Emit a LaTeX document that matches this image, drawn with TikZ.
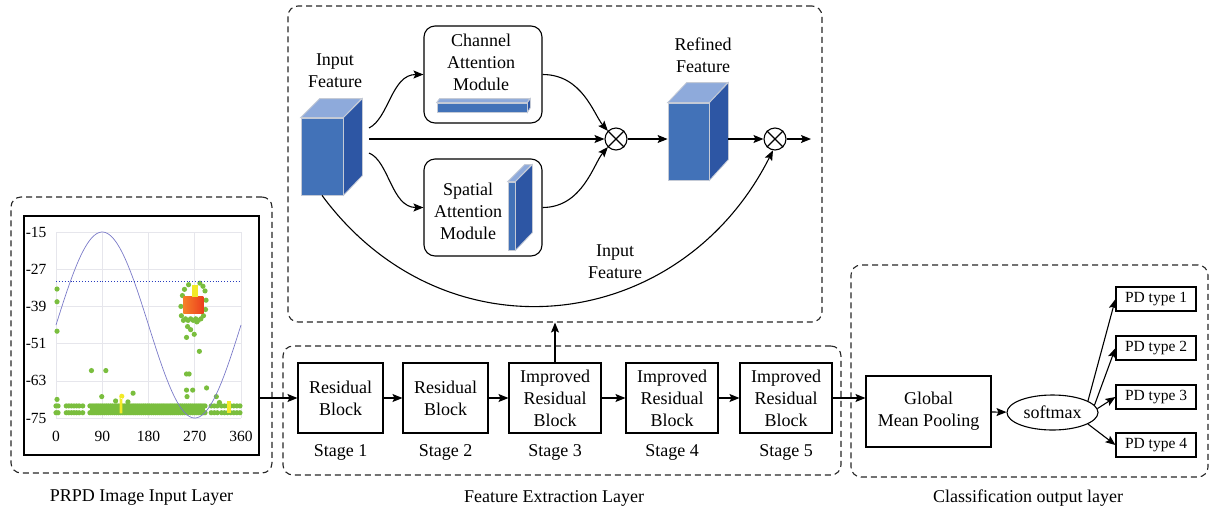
\documentclass[tikz,border=0pt]{standalone}
\usepackage{fontspec}
\setmainfont{Liberation Serif}
\usetikzlibrary{arrows.meta, positioning, shapes.geometric}

\definecolor{cubefront}{RGB}{66,114,184}
\definecolor{cubetop}{RGB}{142,170,219}
\definecolor{cubeside}{RGB}{45,86,164}
\definecolor{cubeedge}{RGB}{196,202,214}
\definecolor{ptgreen}{RGB}{122,190,62}
\definecolor{ptyellow}{RGB}{242,234,40}
\definecolor{ptred}{RGB}{236,62,30}
\definecolor{ptorange}{RGB}{246,128,40}
\definecolor{sinecol}{RGB}{122,122,200}
\definecolor{threshcol}{RGB}{40,60,190}
\definecolor{gridcol}{RGB}{230,230,236}

\begin{document}
\begin{tikzpicture}[x=1pt, y=-1pt, line width=1.1pt,
  font=\fontsize{18}{22}\selectfont,
  >={Stealth[length=10pt, width=8pt, inset=2pt]},
  every node/.append style={align=center},
  panel/.style={draw=black!85, dash pattern=on 6pt off 4pt, rounded corners=10pt, inner sep=0pt},
  block/.style={draw, inner sep=0pt, minimum height=70pt},
  module/.style={draw, rounded corners=11pt, inner sep=0pt, minimum width=118pt, minimum height=97pt},
  front/.style={fill=cubefront, draw=cubeedge, line width=0.8pt, inner sep=0pt},
  face/.style={draw=cubeedge, line width=0.8pt},
  mult/.style={draw, circle, minimum size=22pt, inner sep=0pt},
  pdbox/.style={draw, inner sep=0pt, minimum width=80pt, minimum height=24pt, font=\fontsize{15.5}{18}\selectfont},
  tick/.style={inner sep=0pt, font=\fontsize{15.5}{18}\selectfont}]

  \useasboundingbox (0,0) rectangle (1210,515);

  \node (inpanel) [panel, minimum width=261pt, minimum height=276pt] at (141.5,335) {};
  \node (attpanel) [panel, minimum width=534pt, minimum height=316pt] at (555,164) {};
  \node (featpanel) [panel, minimum width=558pt, minimum height=129pt] at (562,410.5) {};
  \node (clspanel) [panel, minimum width=357pt, minimum height=212pt] at (1029.5,371) {};

  \node (intitle) at (141.5,498) {PRPD Image Input Layer};
  \node (feattitle) at (554,498) {Feature Extraction Layer};
  \node (clstitle) at (1028,498) {Classification output layer};

  % PRPD map
  \node (prpd) [draw, minimum width=235pt, minimum height=239pt, inner sep=0pt] at (141.5,335.5) {};
  \begin{scope}[shift={(56,418)}, x=0.5139pt, y=3.1pt, line width=0.6pt]
    \foreach \p in {0,90,...,360}
      \draw[gridcol] (\p,0) -- (\p,60);
    \foreach \u in {0,12,...,60}
      \draw[gridcol] (0,\u) -- (360,\u);
    \foreach \u/\v in {0/-75,12/-63,24/-51,36/-39,48/-27,60/-15}
      \node (ytick\u) [tick, anchor=east] at (-18,\u) {\v};
    \foreach \p in {0,90,...,360}
      \node (xtick\p) [tick] at (\p,-5.8) {\p};

    \fill[ptgreen] (66,1.7) rectangle (290,3.9);
    \foreach \p in {66,70,...,290}
      \fill[ptgreen] (\p,1.7) circle[radius=2.6pt] (\p,3.9) circle[radius=2.6pt];
    \foreach \p in {0,4,20,25,30,35,40,45,52,302,308,314,322,328,334,340,346,352,358}
      \fill[ptgreen] (\p,1.7) circle[radius=2.6pt] (\p,3.9) circle[radius=2.6pt];
    \foreach \p/\u in {2/41.6,2/37.5,2/28,2/6,69/15.3,97/15.3,89/6.9,150/8,
        254/14.2,259/14.2,254/9,255/6.9,266/9,293/9.7,312/6.9,318/5,116/5.5,140/5.2}
      \fill[ptgreen] (\p,\u) circle[radius=2.6pt];
    \foreach \p/\u in {243/36,244/33,248/31.5,252/32,257/31.5,262/32,267/31.5,272/32,
        277/31.5,282/32,287/33,291/35,292/38,290/41,286/42.5,246/39.5,250/41.5,
        258/43,280/43.5,256/29.5,274/31,254/26,269/27,279/21.5,262/28.5}
      \fill[ptgreen] (\p,\u) circle[radius=2.6pt];
    \shade[left color=ptorange, right color=ptred] (248,33.8) rectangle (287,39.1);
    \fill[ptyellow] (264,39.1) rectangle (277,43);
    \fill[ptyellow] (124,1.5) rectangle (129,6.5) (128,7) circle[radius=2.6pt];
    \fill[ptyellow] (333,1.5) rectangle (340,5.5);

    \draw[sinecol, line width=0.7pt] plot[domain=0:360, samples=91, smooth] (\x, {30+30*sin(\x)});
    \draw[threshcol, dotted, line width=0.9pt] (0,43.9) -- (360,43.9);
  \end{scope}

  % backbone stages
  \node (b1) [block, minimum width=85pt] at (340.5,398) {Residual\\Block};
  \node (b2) [block, minimum width=85pt] at (445.5,398) {Residual\\Block};
  \node (b3) [block, minimum width=92pt] at (555,398) {Improved\\Residual\\Block};
  \node (b4) [block, minimum width=92pt] at (672,398) {Improved\\Residual\\Block};
  \node (b5) [block, minimum width=92pt] at (786,398) {Improved\\Residual\\Block};
  \foreach \i in {1,...,5}
    \node (st\i) [below=7pt of b\i] {Stage \i};

  \draw[->] (prpd.east |- b1) -- (b1);
  \draw[->] (b1) -- (b2);
  \draw[->] (b2) -- (b3);
  \draw[->] (b3) -- (b4);
  \draw[->] (b4) -- (b5);
  \draw[->] (b3) -- (b3 |- attpanel.south);

  % attention block
  \node (infeat) [front, minimum width=42pt, minimum height=77pt] at (322,156.5) {};
  \filldraw[face, fill=cubetop] (infeat.north west) -- ++(19,-19) -- ++(42,0) -- (infeat.north east) -- cycle;
  \filldraw[face, fill=cubeside] (infeat.north east) -- ++(19,-19) -- ++(0,77) -- (infeat.south east) -- cycle;
  \node (infeatlbl) at (335,71) {Input\\Feature};

  \node (cam) [module] at (483,74.5) {};
  \node (camlbl) at (481,62.5) {Channel\\Attention\\Module};
  \node (cambar) [front, minimum width=90pt, minimum height=9pt] at (482,107.5) {};
  \filldraw[face, fill=cubetop] (cambar.north west) -- ++(3,-4) -- ++(90,0) -- (cambar.north east) -- cycle;
  \filldraw[face, fill=cubeside] (cambar.north east) -- ++(3,-4) -- ++(0,9) -- (cambar.south east) -- cycle;

  \node (sam) [module] at (483,207.5) {};
  \node (samlbl) at (468,211) {Spatial\\Attention\\Module};
  \node (samslab) [front, minimum width=7pt, minimum height=68pt] at (511.5,216) {};
  \filldraw[face, fill=cubetop] (samslab.north west) -- ++(17,-17) -- ++(7,0) -- (samslab.north east) -- cycle;
  \filldraw[face, fill=cubeside] (samslab.north east) -- ++(17,-17) -- ++(0,68) -- (samslab.south east) -- cycle;

  \node (refined) [front, minimum width=41pt, minimum height=77pt] at (688.5,141.5) {};
  \filldraw[face, fill=cubetop] (refined.north west) -- ++(19,-20) -- ++(41,0) -- (refined.north east) -- cycle;
  \filldraw[face, fill=cubeside] (refined.north east) -- ++(19,-20) -- ++(0,77) -- (refined.south east) -- cycle;
  \node (refinedlbl) at (703,55) {Refined\\Feature};

  \node (mul1) [mult] at (616,139) {};
  \draw (mul1.45) -- (mul1.225) (mul1.135) -- (mul1.315);
  \node (mul2) [mult] at (775,139) {};
  \draw (mul2.45) -- (mul2.225) (mul2.135) -- (mul2.315);

  \coordinate (fork) at (369,139);
  \coordinate (attout) at (811,139);

  \draw[->] (fork) -- (mul1);
  \draw[->] ([yshift=11pt]fork) .. controls +(20,-10) and +(-32,0) .. (cam.west);
  \draw[->] ([yshift=-14pt]fork) .. controls +(20,8) and +(-32,0) .. (sam.west);
  \draw[->] (cam.east) .. controls +(40,0) and +(-14,-16) .. (mul1.135);
  \draw[->] (sam.east) .. controls +(40,0) and +(-14,16) .. (mul1.225);
  \draw[->] (mul1) -- (mul1 -| refined.west);
  \draw[->] (mul2 -| refined.east) ++(19,0) -- (mul2);
  \draw[->] (mul2) -- (attout);
  \draw[->] (infeat.south) .. controls (445,362) and (680,335) .. (mul2.260);
  \node (skiplbl) at (615,262) {Input\\Feature};

  % classifier
  \node (gmp) [block, minimum width=125pt, minimum height=71pt] at (928.5,411.5) {Global\\Mean Pooling};
  \node (softmax) [draw, ellipse, minimum width=91pt, minimum height=35pt, inner sep=0pt] at (1052.5,412.5) {softmax};
  \node (pd1) [pdbox] at (1156,299) {PD type 1};
  \node (pd2) [pdbox] at (1156,348) {PD type 2};
  \node (pd3) [pdbox] at (1156,397) {PD type 3};
  \node (pd4) [pdbox] at (1156,445) {PD type 4};

  \draw[->] (b5) -- (b5 -| gmp.west);
  \draw[->] (gmp) -- (softmax);
  \draw[->] (softmax.18) -- (pd1.west);
  \draw[->] (softmax.10) -- (pd2.west);
  \draw[->] (softmax.5) -- (pd3.west);
  \draw[->] (softmax.-18) -- (pd4.west);
\end{tikzpicture}
\end{document}
